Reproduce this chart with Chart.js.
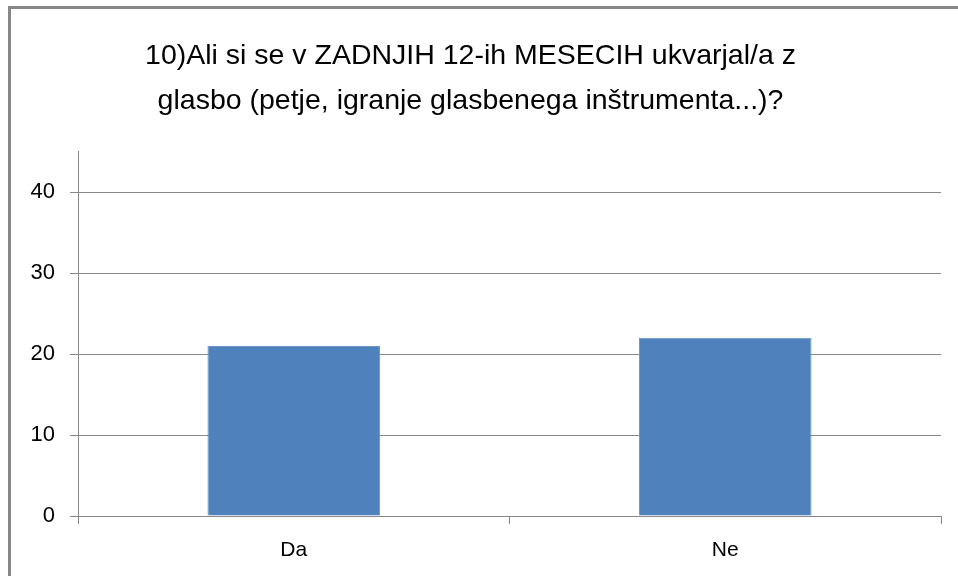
<!DOCTYPE html>
<html>
<head>
<meta charset="utf-8">
<script src="https://cdn.jsdelivr.net/npm/chart.js@4"></script>
<style>
html,body{margin:0;padding:0;background:#fff;overflow:hidden;}
#wrap{position:absolute;left:0;top:0;width:958px;height:576px;}
#frame{position:absolute;left:8px;top:6px;width:960px;height:600px;border-left:3px solid #878787;border-top:3px solid #878787;box-sizing:border-box;pointer-events:none;}
canvas{position:absolute;left:0;top:0;}
</style>
</head>
<body>
<div id="wrap">
<canvas id="c" width="958" height="576"></canvas>
<div id="frame"></div>
</div>
<script>
const titleLines = ["10)Ali si se v ZADNJIH 12-ih MESECIH ukvarjal/a z", "glasbo (petje, igranje glasbenega inštrumenta...)?"];
const categories = ["Da", "Ne"];
const values = [21, 22];
const yMax = 45;
const yStep = 10;

const FONT = "'Liberation Sans', Arial, sans-serif";
const PLOT_LEFT = 78, PLOT_RIGHT = 941, PLOT_BOTTOM = 516;

new Chart(document.getElementById('c'), {
  type: 'bar',
  data: {
    labels: categories,
    datasets: [{
      data: values,
      backgroundColor: '#4F81BD',
      borderColor: '#6A95CA',
      borderWidth: 1,
      barPercentage: 0.4,
      categoryPercentage: 1.0
    }]
  },
  options: {
    responsive: false,
    animation: false,
    devicePixelRatio: 1,
    layout: { padding: { left: 0, right: 958 - PLOT_RIGHT, top: 0, bottom: 0 } },
    plugins: {
      legend: { display: false },
      tooltip: { enabled: false },
      title: {
        display: true,
        text: titleLines,
        color: '#000',
        font: { family: FONT, size: 28.5, weight: 'normal', lineHeight: 1.58 },
        padding: { top: 34, bottom: 27.5 }
      }
    },
    scales: {
      x: {
        offset: true,
        grid: { display: true, offset: true, drawOnChartArea: false, drawTicks: true, tickLength: 8, color: '#888888', lineWidth: 1 },
        border: { display: true, color: '#888888', width: 1 },
        ticks: { color: '#000', font: { family: FONT, size: 21 }, padding: 14 },
        afterFit: (s) => { s.height = 576 - PLOT_BOTTOM; }
      },
      y: {
        min: 0,
        max: yMax,
        afterBuildTicks: (s) => { s.ticks = s.ticks.filter(t => t.value % yStep === 0); },
        ticks: { stepSize: yStep, color: '#000', font: { family: FONT, size: 22 }, padding: 15 },
        grid: { color: '#888888', lineWidth: 1, tickLength: 8, drawTicks: true },
        border: { display: true, color: '#888888', width: 1 },
        afterFit: (s) => { s.width = PLOT_LEFT; }
      }
    }
  }
});
</script>
</body>
</html>
